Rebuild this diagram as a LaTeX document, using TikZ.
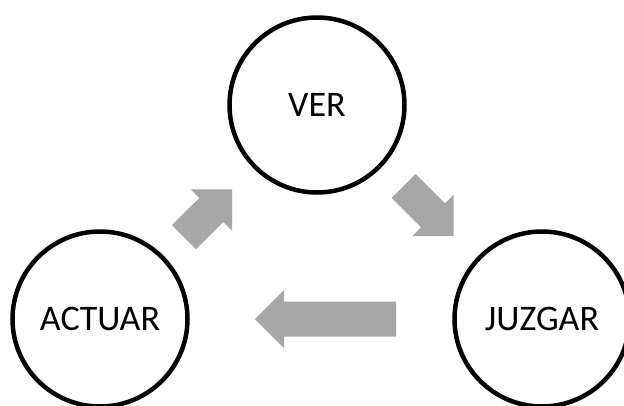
\documentclass[tikz,border=0pt]{standalone}
\usepackage{fontspec}
\setmainfont{Carlito}
\definecolor{arrowgray}{RGB}{166,166,166}
\tikzset{
  stage/.style={circle, draw=black, line width=4.5pt, minimum size=175pt,
                inner sep=0pt, font=\fontsize{36}{40}\selectfont},
  blockarrow/.style={fill=arrowgray, draw=none}
}
\begin{document}
\begin{tikzpicture}[x=1pt, y=-1pt]
  % page frame, with the lower circles running off its edges
  \useasboundingbox (0,0) rectangle (624,405);
  \clip (0,0) rectangle (624,405);

  % the three stages of the cycle
  \node[stage] (ver)    at (317,105) {VER};
  \node[stage] (juzgar) at (542,319) {JUZGAR};
  \node[stage] (actuar) at (100,319) {ACTUAR};

  % ver -> juzgar
  \fill[blockarrow] (415.5,174) -- (445,203.3) -- (453.7,194.6) -- (453.7,236)
        -- (412.3,236) -- (421,227.3) -- (391.5,198) -- cycle;
  % juzgar -> actuar
  \fill[blockarrow] (396,301.5) -- (284,301.5) -- (284,290) -- (255,319)
        -- (284,348) -- (284,336.5) -- (396,336.5) -- cycle;
  % actuar -> ver
  \fill[blockarrow] (172,225) -- (199.3,198) -- (190.6,189.3) -- (232,189.3)
        -- (232,230.7) -- (223.3,222) -- (196,249) -- cycle;
\end{tikzpicture}
\end{document}
